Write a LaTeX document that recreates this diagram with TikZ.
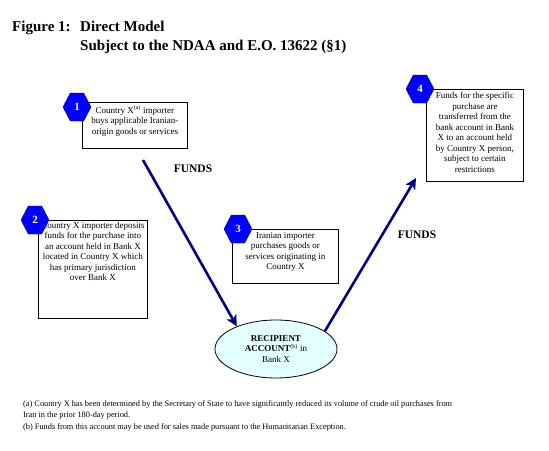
\documentclass[tikz,border=0pt]{standalone}
\usepackage{fontspec}
\setmainfont{Liberation Serif}
\usetikzlibrary{shapes.geometric,shapes.symbols,arrows.meta,positioning}
\definecolor{navy}{RGB}{0,0,128}
\definecolor{acctfill}{RGB}{228,255,255}

\begin{document}
\begin{tikzpicture}[x=1pt,y=-1pt,
    infobox/.style={draw, line width=0.8pt, anchor=north west, inner sep=0pt},
    boxtext/.style={align=center, inner sep=0pt, font=\fontsize{9}{10.5}\selectfont},
    stepnum/.style={signal, signal to=west and east, signal pointer angle=125,
      minimum width=28pt, minimum height=28pt, inner sep=0pt,
      fill=blue, draw=blue!40!black, text=white, font=\bfseries\fontsize{11}{13}\selectfont},
    funds/.style={line width=2.6pt, draw=navy, -{Stealth[length=11pt,width=11pt,inset=3pt]}},
    fundstext/.style={font=\bfseries\fontsize{11.5}{13}\selectfont},
    titletext/.style={anchor=base west, inner sep=0pt, font=\bfseries\fontsize{15}{17}\selectfont}]
  \useasboundingbox (0,0) rectangle (549,450);
  \node [titletext] (fig) at (12,31) {Figure 1:};
  \node [titletext] (title) at (80,31) {Direct Model};
  \node [titletext] (subtitle) at (80,50) {Subject to the NDAA and E.O. 13622 (\S1)};

  \node [infobox, minimum width=105, minimum height=46] (b1) at (82,102) {};
  \node [boxtext, below=3pt of b1.north] (t1) {Country X\textsuperscript{(a)} importer\\buys applicable Iranian-\\origin goods or services};
  \node [infobox, minimum width=109, minimum height=98] (b2) at (38,220) {};
  \node [boxtext, below=2pt of b2.north] (t2) {Country X importer deposits\\funds for the purchase into\\an account held in Bank X\\located in Country X which\\has primary jurisdiction\\over Bank X};
  \node [infobox, minimum width=106, minimum height=54] (b3) at (232,229) {};
  \node [boxtext, below=3pt of b3.north] (t3) {Iranian importer\\purchases goods or\\services originating in\\Country X};
  \node [infobox, minimum width=97, minimum height=92] (b4) at (426,89) {};
  \node [boxtext, below=3pt of b4.north] (t4) {Funds for the specific\\purchase are\\transferred from the\\bank account in Bank\\X to an account held\\by Country X person,\\subject to certain\\restrictions};

  \node [stepnum] (n1) at (77,107) {1};
  \node [stepnum] (n2) at (35,220) {2};
  \node [stepnum] (n3) at (238,229) {3};
  \node [stepnum] (n4) at (420,89) {4};

  \node [ellipse, draw, line width=0.8pt, fill=acctfill, minimum width=122, minimum height=58,
    align=center, inner sep=0pt, font=\fontsize{9}{10.5}\selectfont] (acct) at (276,349)
    {\textbf{RECIPIENT}\\\textbf{ACCOUNT}\textsuperscript{(b)} in\\Bank X};

  \coordinate (s1) at (143,160);
  \coordinate (e2) at (416,178);
  \draw [funds] (s1) -- (acct.150);
  \draw [funds] (acct.20) -- (e2);
  \node [fundstext] (f1) at (193,169) {FUNDS};
  \node [fundstext] (f2) at (417,235) {FUNDS};

  \node [anchor=north west, align=left, inner sep=0pt, font=\fontsize{8.3}{11.5}\selectfont] (notes) at (23,400)
    {(a) Country X has been determined by the Secretary of State to have significantly reduced its volume of crude oil purchases from\\
     Iran in the prior 180-day period.\\
     (b) Funds from this account may be used for sales made pursuant to the Humanitarian Exception.};
\end{tikzpicture}
\end{document}
